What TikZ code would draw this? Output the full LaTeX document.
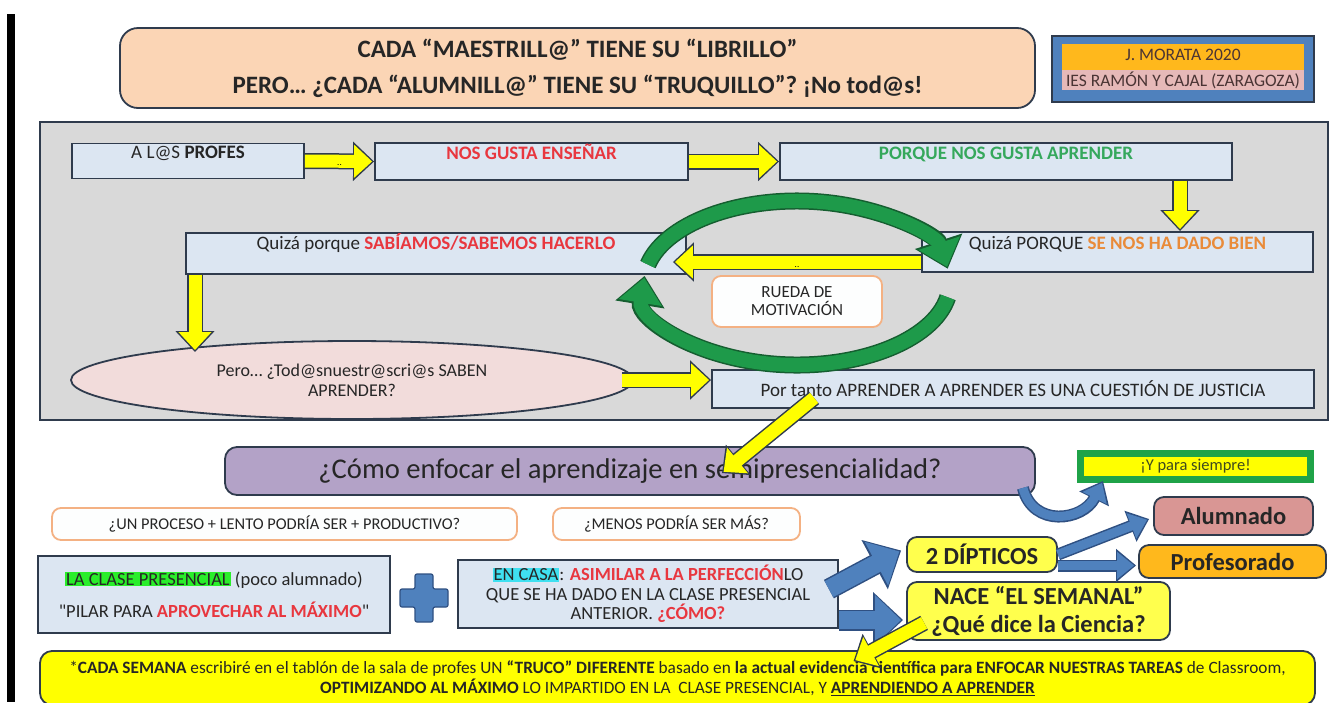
\documentclass[tikz,border=0pt]{standalone}
\usepackage{fontspec}
\setmainfont{Carlito}
\newfontfamily\recta{Carlito}
\usetikzlibrary{arrows.meta,shapes.geometric}

\definecolor{borde}{HTML}{2F3B4D}
\definecolor{texto}{HTML}{262626}
\definecolor{celeste}{HTML}{DCE6F2}
\definecolor{panel}{HTML}{D9D9D9}
\definecolor{melocoton}{HTML}{FBD5B5}
\definecolor{rojo}{HTML}{E8373F}
\definecolor{verdetexto}{HTML}{35A85C}
\definecolor{naranja}{HTML}{E98B3A}
\definecolor{rosa}{HTML}{F2DCDB}
\definecolor{lila}{HTML}{B3A2C7}
\definecolor{bordenaranja}{HTML}{F4B183}
\definecolor{blanco}{HTML}{FDFEFE}
\definecolor{amarillo}{HTML}{FFFF00}
\definecolor{amarilloclaro}{HTML}{FFFF4D}
\definecolor{azul}{HTML}{4F81BD}
\definecolor{azuloscuro}{HTML}{2F5082}
\definecolor{verde}{HTML}{1E9A4A}
\definecolor{verdeoscuro}{HTML}{155E30}
\definecolor{oro}{HTML}{FFB81C}
\definecolor{salmon}{HTML}{D99694}
\definecolor{rosado}{HTML}{E6B9B8}
\definecolor{verdecaja}{HTML}{1FA348}
\definecolor{oliva}{HTML}{3E4A1E}
\definecolor{marron}{HTML}{4A3434}
\definecolor{lima}{HTML}{2AEE2A}
\definecolor{cian}{HTML}{3FE0F0}

\newcommand\tam[2]{\fontsize{#1}{#2}\selectfont}
\setlength\fboxsep{1pt}

\begin{document}
\begin{tikzpicture}[x=1pt,y=-1pt,
  caja/.style={draw=borde, line width=1.8pt, fill=celeste, inner sep=0pt, align=center, text=texto, font=\tam{19}{22}},
  arriba/.style={text height=14pt, text depth=#1},
  burbuja/.style={draw=bordenaranja, line width=1.8pt, fill=blanco, rounded corners=9pt, inner sep=0pt, align=center, text=texto, font=\tam{16.4}{20}},
  pastilla/.style={draw=borde, line width=1.8pt, rounded corners=10pt, inner sep=0pt, align=center, text=texto, font=\bfseries\tam{24.5}{28}},
  flechaamarilla/.style={draw=amarillo, line width=13pt, shorten >=2pt, -{Triangle[width=32pt,length=18pt]},
    preaction={draw=borde, line width=16pt, shorten >=0pt, -{Triangle[width=38pt,length=21pt]}}},
  flechaazul/.style={draw=azul, line width=18pt, shorten >=2pt, -{Triangle[width=48pt,length=26pt]},
    preaction={draw=azuloscuro, line width=21pt, shorten >=0pt, -{Triangle[width=54pt,length=30pt]}}},
  flechaazulfina/.style={draw=azul, line width=9pt, shorten >=2pt, -{Triangle[width=26pt,length=17pt]},
    preaction={draw=azuloscuro, line width=12pt, shorten >=0pt, -{Triangle[width=32pt,length=20pt]}}},
  flechaverde/.style={draw=verde, line width=14pt, shorten >=2pt, -{Triangle[width=42pt,length=25pt]},
    preaction={draw=verdeoscuro, line width=17pt, shorten >=0pt, -{Triangle[width=48pt,length=29pt]}}}]
\useasboundingbox (0,0) rectangle (1343,702);
\fill[white] (0,0) rectangle (1343,702);
\fill[black] (7,14) rectangle (15,702);

% cabecera
\node[pastilla, fill=melocoton, rounded corners=18pt, minimum width=915pt, minimum height=80pt, font=\bfseries\tam{25}{36}] (titulo) at (577.5,68)
  {CADA “MAESTRILL@” TIENE SU “LIBRILLO”\\PERO… ¿CADA “ALUMNILL@” TIENE SU “TRUQUILLO”? ¡No tod@s!};
\node[draw=borde, line width=1.8pt, fill=azul, minimum width=262pt, minimum height=66pt, inner sep=0pt] (autor) at (1183,69) {};
\fill[oro] (1062,44) rectangle (1304,70);
\fill[rosado] (1062,70) rectangle (1304,90);
\node[font=\tam{17.5}{20}, text=marron] (nombre) at (1183,55) {J. MORATA 2020};
\node[font=\tam{17.5}{20}, text=marron] (instituto) at (1183,80) {IES RAMÓN Y CAJAL (ZARAGOZA)};

% panel gris
\filldraw[fill=panel, draw=borde, line width=2pt] (40,122) rectangle (1328,420);

\node[caja, arriba=19pt, minimum width=232pt, minimum height=35pt] (profes) at (188,161) {A L@S \textbf{PROFES}};
\node[caja, arriba=19pt, minimum width=313pt, minimum height=37pt, text=rojo, font=\bfseries\tam{19}{22}] (ensenar) at (531.5,161.5) {NOS GUSTA ENSEÑAR};
\node[caja, arriba=19pt, minimum width=452pt, minimum height=37pt, text=verdetexto, font=\bfseries\tam{19}{22}] (aprender) at (1006,161.5) {PORQUE NOS GUSTA APRENDER};
\node[caja, arriba=22pt, minimum width=500pt, minimum height=41pt] (sabiamos) at (436,253.5) {Quizá porque \textcolor{rojo}{\bfseries SABÍAMOS/SABEMOS HACERLO}};
\node[caja, arriba=20pt, minimum width=391pt, minimum height=40pt] (dadobien) at (1117.5,252) {Quizá PORQUE \textcolor{naranja}{\bfseries SE NOS HA DADO BIEN}};
\node[burbuja, minimum width=170pt, minimum height=51pt, font=\tam{17}{18}] (rueda) at (797,301.5) {RUEDA DE\\MOTIVACIÓN};
\node[ellipse, draw=borde, line width=1.8pt, fill=rosa, minimum width=562pt, minimum height=78pt, inner sep=0pt, align=center, text=texto, font=\tam{18}{20}] (duda) at (352,380)
  {Pero… ¿Tod@snuestr@scri@s SABEN\\APRENDER?};
\node[caja, minimum width=602pt, minimum height=38pt] (portanto) at (1013,389) {Por tanto APRENDER A APRENDER ES UNA CUESTIÓN DE JUSTICIA};

% rueda de motivacion
\coordinate (ciclo) at (797,283);
\draw[flechaverde] (ciclo) ++(193:153 and 82) arc[start angle=193, end angle=350, x radius=153, y radius=82];
\draw[flechaverde] (ciclo) ++(10:153 and 82) arc[start angle=10, end angle=185, x radius=153, y radius=82];

\draw[flechaamarilla] (profes.east) -- (ensenar.west) node[midway, yshift=-4pt, font=\tam{9}{10}] (pausa1) {..};
\draw[flechaamarilla] (ensenar.east) -- (aprender.west);
\coordinate (bajada) at (1180,0);
\draw[flechaamarilla] (aprender.south -| bajada) -- (dadobien.north -| bajada);
\draw[flechaamarilla] ([yshift=-10pt]dadobien.west) -- ([xshift=-14pt,yshift=-8.5pt]sabiamos.east) node[midway, yshift=-5pt, font=\tam{9}{10}] (pausa2) {..};
\coordinate (caida) at (195,352);
\draw[flechaamarilla] (sabiamos.south -| caida) -- (caida);
\draw[flechaamarilla] ([xshift=-12pt]duda.east) -- (portanto.west |- duda.east);

% parte de abajo
\node[pastilla, fill=lila, rounded corners=12pt, minimum width=810pt, minimum height=48pt, font=\tam{28.6}{32}] (pregunta) at (630,471) {¿Cómo enfocar el aprendizaje en semipresencialidad?};
\draw[flechaamarilla] ([shift={(103,-11)}]portanto.south west) -- ([shift={(92,27)}]pregunta.north);
\node[draw=verdecaja, line width=7pt, fill=amarillo, minimum width=230pt, minimum height=26pt, inner sep=0pt, font=\tam{16.5}{17}, text=oliva] (siempre) at (1195.5,466.5) {¡Y para siempre!};

\node[burbuja, minimum width=465pt, minimum height=32pt] (lento) at (284.5,524) {¿UN PROCESO + LENTO PODRÍA SER + PRODUCTIVO?};
\node[burbuja, minimum width=247pt, minimum height=32pt] (menos) at (676.5,524) {¿MENOS PODRÍA SER MÁS?};

\node[caja, minimum width=352pt, minimum height=77pt, font=\tam{18.5}{32}] (clase) at (214,594.5)
  {\colorbox{lima}{LA CLASE PRESENCIAL} (poco alumnado)\\{\recta"}PILAR PARA \textcolor{rojo}{\bfseries APROVECHAR AL MÁXIMO}{\recta"}};
\filldraw[fill=azul, draw=azuloscuro, line width=1.2pt, rounded corners=2pt]
  (415,574) -- (433,574) -- (433,589) -- (448,589) -- (448,607) -- (433,607) -- (433,622)
  -- (415,622) -- (415,607) -- (400,607) -- (400,589) -- (415,589) -- cycle;
\node[caja, minimum width=380pt, minimum height=68pt, font=\tam{18.5}{19.5}] (encasa) at (648,594)
  {\colorbox{cian}{EN CASA}: \textcolor{rojo}{\bfseries ASIMILAR A LA PERFECCIÓN}LO\\QUE SE HA DADO EN LA CLASE PRESENCIAL\\ANTERIOR. \textcolor{rojo}{\bfseries ¿CÓMO?}};

\node[pastilla, fill=amarilloclaro, minimum width=150pt, minimum height=35pt] (dipticos) at (982,554.5) {2 DÍPTICOS};
\node[pastilla, fill=salmon, minimum width=159pt, minimum height=38pt] (alumnado) at (1233.5,516) {Alumnado};
\node[pastilla, fill=oro, minimum width=187pt, minimum height=33pt] (profesorado) at (1232.5,561.5) {Profesorado};
\node[pastilla, fill=amarilloclaro, minimum width=263pt, minimum height=58pt] (semanal) at (1038.5,611) {NACE “EL SEMANAL”\\¿Qué dice la Ciencia?};

\node[pastilla, fill=amarillo, rounded corners=12pt, minimum width=1275pt, minimum height=54pt, font=\tam{17.3}{20}] (truco) at (677.5,678)
  {*\textbf{CADA SEMANA} escribiré en el tablón de la sala de profes UN \textbf{“TRUCO” DIFERENTE} basado en \textbf{la actual evidencia científica para ENFOCAR NUESTRAS TAREAS} de Classroom,\\
   \textbf{OPTIMIZANDO AL MÁXIMO} LO IMPARTIDO EN LA~ CLASE PRESENCIAL, Y \underline{\textbf{APRENDIENDO A APRENDER}}};

\draw[flechaazul] ([shift={(-10,30)}]encasa.north east) -- ([shift={(-5,-4)}]dipticos.west);
\draw[flechaazul] ([yshift=-26pt]encasa.east) -- ([shift={(-3,9)}]semanal.west);
\draw[flechaazulfina] (dipticos.east) -- ([shift={(-4,3)}]alumnado.west);
\draw[flechaazulfina] ([yshift=-11pt]dipticos.east) -- ([shift={(-2,4)}]profesorado.west);
\draw[flechaazulfina] ([shift={(-13,-8)}]pregunta.south east) .. controls +(10,40) and +(-20,40) .. ([shift={(26,-2)}]siempre.south west);
\draw[flechaamarilla] ([shift={(18,-18)}]semanal.south west) -- ([shift={(176,11)}]truco.north);
\end{tikzpicture}
\end{document}
